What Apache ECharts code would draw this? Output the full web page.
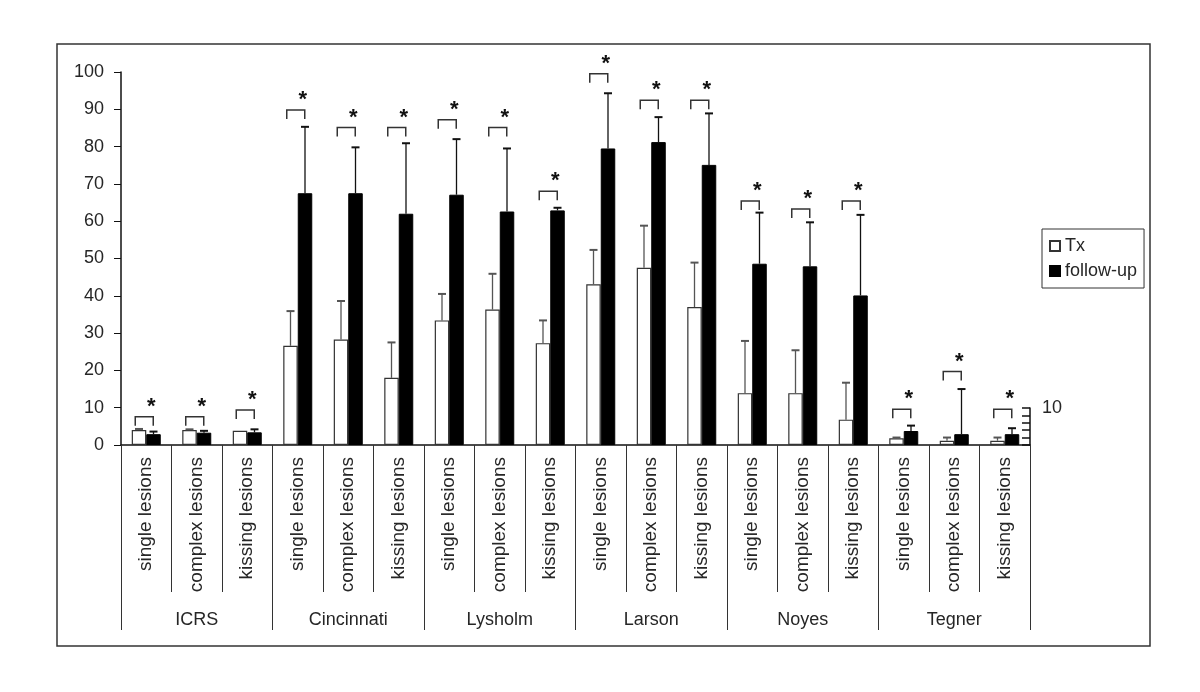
<!DOCTYPE html>
<html>
<head>
<meta charset="utf-8">
<script src="https://cdn.jsdelivr.net/npm/echarts@6/dist/echarts.min.js"></script>
<style>
  html, body { margin: 0; padding: 0; background: #fff; }
  #container { width: 1200px; height: 692px; }
</style>
</head>
<body>
<div id="container"></div>
<script>
var dom = document.getElementById('container');
var myChart = echarts.init(dom, null, { renderer: 'canvas' });

// data
var groups = ['ICRS', 'Cincinnati', 'Lysholm', 'Larson', 'Noyes', 'Tegner'];
var lesions = ['single lesions', 'complex lesions', 'kissing lesions'];

var txMean = [4.0, 4.0, 3.8, 26.6, 28.3, 18.0, 33.4, 36.3, 27.3, 43.1, 47.5, 37.0, 13.9, 13.9, 6.8, 1.8, 1.15, 1.15];
var txSd   = [0.3, 0.2, 0.0, 9.3, 10.3, 9.5, 7.1, 9.6, 6.1, 9.2, 11.3, 11.9, 14.0, 11.5, 9.9, 0.2, 0.85, 0.85];
var fuMean = [2.9, 3.3, 3.4, 67.5, 67.5, 62.0, 67.1, 62.6, 62.9, 79.5, 81.2, 75.1, 48.6, 47.9, 40.1, 3.75, 2.9, 2.9];
var fuSd   = [0.7, 0.5, 0.8, 17.8, 12.3, 18.9, 14.9, 16.9, 0.7, 14.8, 6.7, 13.8, 13.7, 11.8, 21.6, 1.45, 12.1, 1.6];
// height of the significance bracket for each category
var bracketLevel = [7.6, 7.6, 9.4, 89.8, 85.1, 85.1, 87.2, 85.1, 68.0, 99.5, 92.4, 92.4, 65.4, 63.3, 65.4, 9.6, 19.7, 9.6];

var yTicks = [0, 100, 10];   // min, max, interval
var insetTicks = [0, 10, 2]; // small Tegner axis

// categories, one per group x lesion
var cats = [];
groups.forEach(function (g) {
  lesions.forEach(function (l) { cats.push(g + '|' + l); });
});

var txt = '#262626';
var barW = 14.5;

function errRender(offset, color) {
  return function (params, api) {
    var base = api.coord([api.value(0), api.value(1)]);
    var top = api.coord([api.value(0), api.value(1) + api.value(2)]);
    var x = base[0] + offset;
    if (api.value(2) <= 0) return;
    return {
      type: 'group',
      children: [
        { type: 'line', shape: { x1: x, y1: base[1], x2: x, y2: top[1] }, style: { stroke: color, lineWidth: 1.3 } },
        { type: 'line', shape: { x1: x - 4, y1: top[1], x2: x + 4, y2: top[1] }, style: { stroke: color, lineWidth: 2 } }
      ]
    };
  };
}

function bracketRender(params, api) {
  var p = api.coord([api.value(0), api.value(1)]);
  var x1 = p[0] - 11, x2 = p[0] + 7, y = p[1];
  return {
    type: 'group',
    children: [
      { type: 'polyline', shape: { points: [[x1, y + 9], [x1, y], [x2, y], [x2, y + 9]] }, style: { stroke: '#333', lineWidth: 1.5, fill: null } },
      { type: 'text', x: p[0] + 5, y: y - 10, style: { text: '*', fill: '#111', font: 'bold 22px "Liberation Sans", Arial', align: 'center', verticalAlign: 'middle' } }
    ]
  };
}

var option = {
  animation: false,
  backgroundColor: '#fff',
  graphic: [{
    type: 'rect',
    shape: { x: 57, y: 44, width: 1093, height: 602 },
    style: { fill: null, stroke: '#333', lineWidth: 1.5 },
    silent: true
  }],
  legend: {
    orient: 'vertical',
    left: 1042,
    top: 229,
    padding: [8, 7, 8, 7],
    itemGap: 7,
    itemWidth: 10,
    itemHeight: 10,
    icon: 'rect',
    borderColor: '#333',
    borderWidth: 1,
    textStyle: { fontSize: 18, color: txt, fontFamily: '"Liberation Sans", Arial' },
    data: ['Tx', 'follow-up']
  },
  grid: [
    { left: 121, right: 170, top: 72, bottom: 247, containLabel: false },
    { left: 1000, right: 170, top: 408, bottom: 247, containLabel: false }
  ],
  xAxis: [
    {
      type: 'category',
      gridIndex: 0,
      position: 'bottom',
      data: cats,
      axisLine: { show: true, lineStyle: { color: '#111', width: 1.5 } },
      axisTick: { show: true, interval: 0, length: 147, lineStyle: { color: '#333' } },
      axisLabel: {
        interval: 0,
        rotate: 90,
        margin: 12,
        fontSize: 19,
        color: txt,
        fontFamily: '"Liberation Sans", Arial',
        formatter: function (v) { return v.split('|')[1]; }
      },
      splitLine: { show: false }
    },
    {
      type: 'category',
      gridIndex: 0,
      position: 'bottom',
      data: groups,
      axisLine: { show: false },
      axisTick: { show: true, interval: 0, length: 185, lineStyle: { color: '#333' } },
      axisLabel: { interval: 0, margin: 166, fontSize: 18, color: txt, fontFamily: '"Liberation Sans", Arial' },
      splitLine: { show: false }
    },
    { type: 'value', gridIndex: 1, show: false, min: 0, max: 1 }
  ],
  yAxis: [
    {
      type: 'value',
      gridIndex: 0,
      min: yTicks[0],
      max: yTicks[1],
      interval: yTicks[2],
      axisLine: { show: true, lineStyle: { color: '#111', width: 1.5 } },
      axisTick: { show: true, length: 7, lineStyle: { color: '#111' } },
      axisLabel: { margin: 17, fontSize: 18, color: txt, fontFamily: '"Liberation Sans", Arial' },
      splitLine: { show: false }
    },
    {
      type: 'value',
      gridIndex: 1,
      position: 'right',
      min: insetTicks[0],
      max: insetTicks[1],
      interval: insetTicks[2],
      axisLine: { show: true, onZero: false, lineStyle: { color: '#111', width: 1.5 } },
      axisTick: { show: true, inside: true, length: 8, lineStyle: { color: '#111', width: 1.5 } },
      axisLabel: {
        margin: 12, fontSize: 18, color: txt, fontFamily: '"Liberation Sans", Arial',
        formatter: function (v) { return v === 10 ? '10' : ''; }
      },
      splitLine: { show: false }
    }
  ],
  series: [
    {
      name: 'Tx',
      type: 'bar',
      barWidth: barW,
      barGap: '0%',
      data: txMean,
      itemStyle: { color: '#fff', borderColor: '#333', borderWidth: 1.2 }
    },
    {
      name: 'follow-up',
      type: 'bar',
      barWidth: barW,
      barGap: '0%',
      data: fuMean,
      itemStyle: { color: '#000', borderColor: '#000', borderWidth: 1 }
    },
    {
      type: 'custom',
      z: 5,
      renderItem: errRender(-barW / 2, '#555'),
      data: txMean.map(function (v, i) { return [i, v, txSd[i]]; })
    },
    {
      type: 'custom',
      z: 5,
      renderItem: errRender(barW / 2, '#111'),
      data: fuMean.map(function (v, i) { return [i, v, fuSd[i]]; })
    },
    {
      type: 'custom',
      z: 5,
      renderItem: bracketRender,
      data: bracketLevel.map(function (v, i) { return [i, v]; })
    }
  ]
};

myChart.setOption(option);
window.addEventListener('resize', myChart.resize);
</script>
</body>
</html>
